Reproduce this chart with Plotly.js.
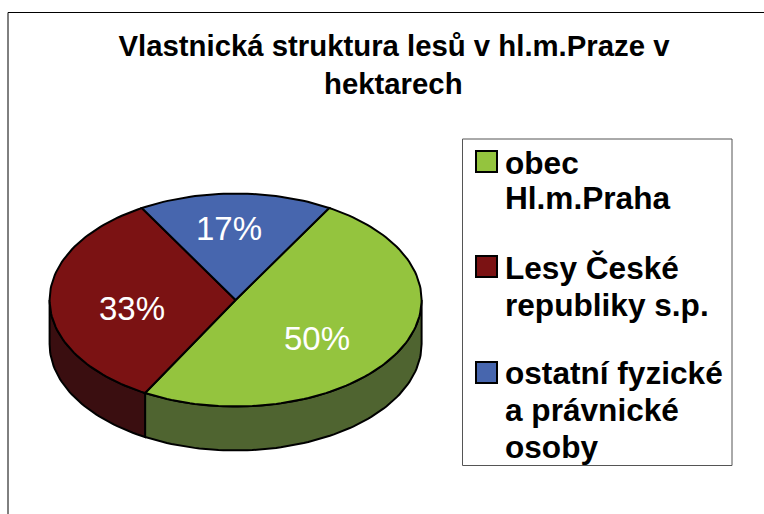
<!DOCTYPE html>
<html><head><meta charset="utf-8">
<script src="https://cdn.plot.ly/plotly-3.0.1.min.js"></script>
<style>html,body{margin:0;padding:0;background:#fff}</style></head>
<body><div id="chart" style="width:764px;height:514px"></div>
<script>
// Data
const categories = ['obec Hl.m.Praha', 'Lesy České republiky s.p.', 'ostatní fyzické a právnické osoby'];
const shares = [49.7, 33.5, 16.8];
const percentLabels = ['50%', '33%', '17%'];
const titleLines = ['Vlastnická struktura lesů v hl.m.Praze v', 'hektarech'];
const legendLines = [['obec', 'Hl.m.Praha'], ['Lesy České', 'republiky s.p.'], ['ostatní fyzické', 'a právnické', 'osoby']];
// Style
const topColors = ['#94C43E', '#7B1213', '#4766AE'];
const sideColors = ['#4F6430', '#3A0E10', '#2B3D68'];
const W = 764, H = 514, cx = 235.6, cy = 300, rx = 186, ry = 106.5, depth = 44, startAngle = 30.2;
const font = 'Liberation Sans, Arial, sans-serif';
const d2r = Math.PI / 180;
const px = (x) => (x - cx) / rx, py = (y) => (cy - y) / ry;
const dz = depth / ry;
const pt = (a, z) => [Math.sin(a * d2r), Math.cos(a * d2r) - (z || 0)];
function arc(a0, a1, z) { const n = Math.max(2, Math.ceil(Math.abs(a1 - a0) / 1.5)), out = [];
  for (let i = 0; i <= n; i++) out.push(pt(a0 + (a1 - a0) * i / n, z)); return out; }
function trace(points, fill) { return { type: 'scatter', mode: 'lines', x: points.map(p => p[0]), y: points.map(p => p[1]),
  fill: 'toself', fillcolor: fill, line: { color: '#000', width: 2 }, hoverinfo: 'skip', showlegend: false }; }
const total = shares.reduce((s, v) => s + v, 0);
const traces = [], tops = [];
let a = startAngle;
shares.forEach((v, i) => {
  const b = a + v / total * 360;
  const s0 = Math.max(a, 90), s1 = Math.min(b, 270);
  if (s1 > s0) traces.push(trace(arc(s0, s1, 0).concat(arc(s1, s0, dz), [pt(s0, 0)]), sideColors[i]));
  tops.push(trace([[0, 0]].concat(arc(a, b, 0), [[0, 0]]), topColors[i]));
  a = b;
});
const data = traces.concat(tops);
const annotations = [];
const text = (t, x, y, size, color, bold, anchor) => annotations.push({ text: bold ? '<b>' + t + '</b>' : t,
  xref: 'paper', yref: 'paper', x: x / W, y: 1 - y / H, xanchor: anchor, yanchor: 'middle', showarrow: false,
  font: { family: font, size: size, color: color } });
const labelAt = [[316.5, 338], [131.8, 308], [229, 229]];
percentLabels.forEach((t, i) => text(t, labelAt[i][0], labelAt[i][1], 33, '#fff', false, 'center'));
text(titleLines[1], 394, 84, 29.33, '#000', true, 'center');
const lineY = [[163, 198], [268, 305], [373, 410, 447]];
legendLines.forEach((ls, i) => ls.forEach((t, j) => text(t, 502.5, lineY[i][j], 31.6, '#000', true, 'left')));
const pr = (x0, y0, x1, y1, extra) => Object.assign({ type: 'rect', xref: 'paper', yref: 'paper', x0: x0 / W, x1: x1 / W, y0: 1 - y0 / H, y1: 1 - y1 / H, layer: 'below' }, extra);
const shapes = [
  pr(8, 12.5, 800, 600, { line: { color: '#000', width: 1 }, fillcolor: '#fff' }),
  pr(462.5, 139, 732, 465.5, { line: { color: '#555', width: 1 }, fillcolor: '#fff' })
];
[[151, 172], [256, 277], [362, 383]].forEach((s, i) => shapes.push(Object.assign(pr(476, s[0], 497, s[1],
  { line: { color: '#000', width: 2 }, fillcolor: topColors[i] }), { layer: 'above' })));
const layout = {
  width: W, height: H, margin: { l: 0, r: 0, t: 0, b: 0 }, paper_bgcolor: '#fff', plot_bgcolor: 'rgba(0,0,0,0)', showlegend: false,
  title: { text: '<b>' + titleLines[0] + '</b>', x: 394 / W, xanchor: 'center', y: 1 - 46 / H, yanchor: 'middle', font: { family: font, size: 29.33, color: '#000' } },
  xaxis: { range: [px(0), px(W)], visible: false, fixedrange: true },
  yaxis: { range: [py(H), py(0)], visible: false, fixedrange: true },
  shapes, annotations
};
Plotly.newPlot('chart', data, layout, { displayModeBar: false, staticPlot: true });
</script></body></html>
